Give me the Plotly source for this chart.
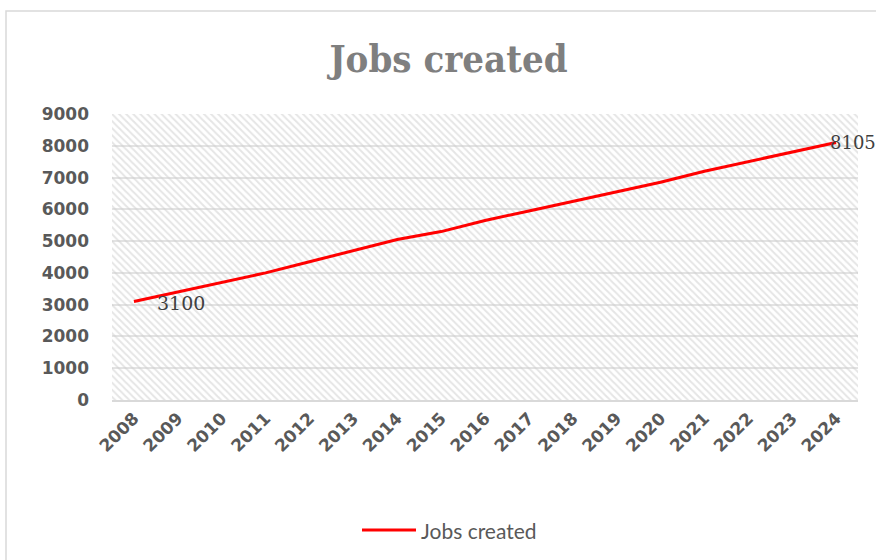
import plotly.graph_objects as go

years = [str(y) for y in range(2008, 2025)]
jobs = [3100, 3400, 3700, 4000, 4350, 4700, 5050, 5300, 5650, 5950,
        6250, 6550, 6850, 7200, 7500, 7800, 8105]
y_ticks = list(range(0, 9001, 1000))
Y_MAX = 9000
title_text = "Jobs created"
series_name = "Jobs created"
labelled_points = [0, len(jobs) - 1]

fig = go.Figure()

# hatched plot-area background
fig.add_trace(go.Bar(
    x=years, y=[Y_MAX] * len(years), width=1,
    marker=dict(color="rgba(0,0,0,0)", line=dict(width=0),
                pattern=dict(shape="\\", fgcolor="#cccccc",
                             bgcolor="rgba(0,0,0,0)", size=5, solidity=0.4)),
    hoverinfo="skip", showlegend=False,
))

fig.add_trace(go.Scatter(
    x=years, y=jobs, mode="lines", name=series_name,
    line=dict(color="#ff0000", width=3), showlegend=False,
))

# data labels on first and last point
for i in labelled_points:
    first = (i == 0)
    fig.add_annotation(
        x=i, y=jobs[i], text=str(jobs[i]), showarrow=False,
        xanchor="left", xshift=21 if first else -8,
        yshift=-2 if first else 0,
        font=dict(family="DejaVu Serif", size=19 if first else 18,
                  color="#404040"),
    )

# legend (drawn manually to match the long line sample)
fig.add_shape(type="line", xref="paper", yref="paper",
              x0=(362 - 112) / 746, x1=(416 - 112) / 746,
              y0=(400 - 530) / 286, y1=(400 - 530) / 286,
              line=dict(color="#ff0000", width=3))
fig.add_annotation(xref="paper", yref="paper",
                   x=(419 - 112) / 746, y=(400 - 530) / 286,
                   xanchor="left", yanchor="middle", showarrow=False,
                   text=series_name,
                   font=dict(family="Lato", size=21, color="#595959"))

fig.update_layout(
    width=876, height=560,
    margin=dict(l=112, r=18, t=114, b=160),
    paper_bgcolor="white", plot_bgcolor="white",
    bargap=0,
    title=dict(text="<b>" + title_text + "</b>", x=0.512, xanchor="center",
               y=0.895, yanchor="middle",
               font=dict(family="DejaVu Serif Condensed", size=38,
                         color="#7f7f7f")),
    showlegend=False,
    font=dict(family="DejaVu Sans"),
)

fig.update_xaxes(
    type="category", tickangle=-45, showgrid=False,
    showline=True, linecolor="#d9d9d9", linewidth=1.5,
    ticks="", tickfont=dict(family="DejaVu Sans", size=17, color="#595959",
                            weight="bold"),
    range=[-0.5, len(years) - 0.5], fixedrange=True,
)
fig.update_yaxes(
    range=[0, Y_MAX], tickvals=y_ticks, showgrid=True,
    gridcolor="#e3e3e3", gridwidth=1.5, zeroline=False, showline=False,
    ticks="", ticklabelstandoff=22,
    tickfont=dict(family="DejaVu Sans", size=17, color="#595959",
                  weight="bold"),
)

# outer chart border
fig.add_shape(type="rect", xref="paper", yref="paper",
              x0=(6 - 112) / 746, x1=1.2, y0=-0.8, y1=(400 - 11) / 286,
              line=dict(color="#d9d9d9", width=1.5), layer="below")

fig.write_html("out.html")
